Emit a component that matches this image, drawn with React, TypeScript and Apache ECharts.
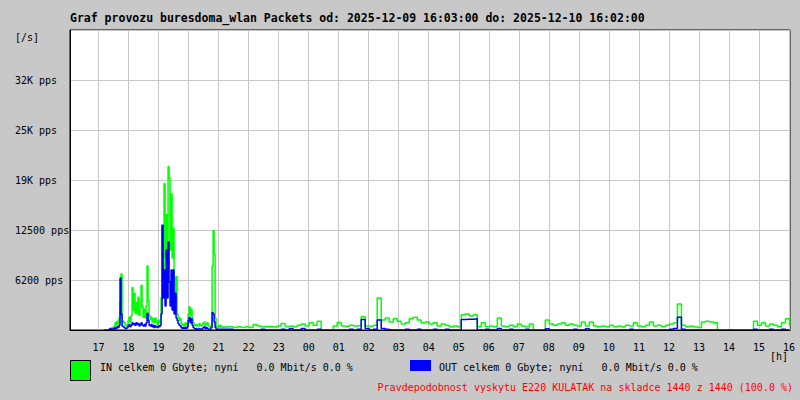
import React, { useEffect, useRef } from 'react';
import * as echarts from 'echarts';

const TITLE = 'Graf provozu buresdoma_wlan Packets od: 2025-12-09 16:03:00 do: 2025-12-10 16:02:00';
const START_MINUTE_OF_DAY = 16 * 60 + 3;
const MINUTES = 1440;

const Y_MAX = 37500;
const Y_STEP = 6250;
const Y_TICK_LABELS = ['', '6200 pps', '12500 pps', '19K pps', '25K pps', '32K pps', ''];

// busy period: one value every 2 minutes starting at category index 68 (17:11)
const BUSY_START = 68;
const BUSY_STEP = 2;
const IN_BUSY = [
  0, 0, 0, 0, 0,
  100, 200, 100, 300, 200, 500, 900, 600, 1100, 800,
  1500, 3500, 7000, 1200, 900, 1000, 600, 500, 700, 1200,
  1600, 1000, 1800, 5300, 2500, 4600, 2100, 3400, 2000, 4100,
  1800, 2800, 5600, 3000, 1600, 2600, 1500, 3000, 8000, 3700,
  1800, 1300, 1600, 1000, 1400, 900, 1500, 1100, 700, 1200,
  900, 1300, 4000, 13100, 6000, 18300, 9000, 14400, 8000, 20400,
  19000, 10000, 17000, 9000, 12700, 6500, 3500, 6700, 2000, 1600,
  1200, 1400, 800, 600, 700, 500, 900, 600, 800, 2000,
  2900, 1800, 2600, 1500, 900, 600, 500, 700, 600, 500,
  800, 600, 500, 700, 900, 1000, 600, 800, 900, 500,
  400, 300, 600, 8000, 12400, 9500, 1500, 500, 400, 500,
  300, 600, 400, 300, 400, 300, 400, 400, 300, 400,
];
const OUT_BUSY = [
  0, 0, 0, 0, 0,
  100, 200, 100, 100, 200, 100, 300, 200, 400, 300,
  600, 6500, 2000, 500, 400, 300, 200, 200, 300, 500,
  700, 400, 600, 900, 700, 800, 600, 900, 700, 800,
  500, 700, 900, 600, 500, 700, 500, 900, 2100, 1200,
  600, 500, 700, 400, 600, 300, 500, 400, 300, 500,
  400, 600, 2000, 13100, 4000, 7500, 3000, 10000, 4000, 11000,
  6000, 3000, 7500, 2500, 7500, 2000, 4600, 1500, 1200, 800,
  600, 500, 300, 200, 300, 200, 300, 200, 400, 1200,
  1600, 900, 1400, 600, 300, 200, 100, 200, 100, 100,
  200, 100, 100, 200, 300, 400, 200, 300, 200, 100,
  100, 100, 300, 2200, 2000, 1000, 300, 100, 100, 100,
  100, 100, 100, 100, 100, 100, 100, 100, 100, 100,
];

// rest of the day: one value every 8 minutes starting at category index 318 (21:21)
const REST_START = 318;
const REST_STEP = 8;
const IN_REST = [
  400, 300, 400, 300, 400, 300, 700, 500, 400, 450,
  400, 350, 500, 800, 450, 500, 400, 600, 750, 500,
  900, 600, 1100, 0, 0, 0, 500, 950, 500, 450,
  600, 500, 550, 1650, 500, 450, 600, 4000, 1250, 1500,
  1000, 1400, 1100, 750, 900, 1400, 1600, 1250, 900, 1000,
  750, 900, 500, 750, 600, 400, 500, 400, 1900, 2000,
  1750, 1900, 400, 900, 400, 500, 400, 1500, 500, 400,
  600, 400, 750, 500, 400, 750, 0, 0, 0, 1250,
  750, 600, 750, 900, 600, 750, 600, 500, 1000, 500,
  1000, 500, 400, 500, 400, 600, 400, 500, 400, 600,
  500, 900, 500, 400, 600, 1000, 500, 600, 400, 600,
  750, 900, 3250, 600, 400, 500, 400, 300, 1000, 1100,
  1000, 900, 0, 0, 0, 0, 0, 0, 0, 0,
  0, 1100, 600, 900, 500, 750, 600, 400, 900, 1400,
  500,
];
const OUT_REST = [
  100, 0, 0, 0, 0, 0, 0, 0, 100, 0,
  0, 0, 0, 100, 0, 150, 0, 0, 200, 0,
  0, 0, 100, 0, 0, 0, 0, 0, 0, 0,
  100, 0, 100, 1300, 200, 0, 100, 1250, 200, 100,
  0, 0, 0, 0, 100, 0, 0, 100, 0, 0,
  0, 100, 0, 0, 100, 0, 0, 0, 1300, 1350,
  1350, 1400, 0, 0, 100, 0, 0, 200, 0, 0,
  100, 0, 0, 0, 100, 0, 0, 0, 0, 150,
  0, 0, 0, 0, 0, 0, 100, 0, 0, 150,
  0, 0, 0, 0, 0, 0, 0, 0, 0, 0,
  100, 0, 0, 0, 0, 0, 0, 0, 0, 0,
  100, 200, 1600, 100, 0, 0, 0, 0, 0, 0,
  0, 0, 0, 0, 0, 0, 0, 0, 0, 0,
  0, 100, 0, 0, 0, 100, 0, 0, 100, 0,
  0,
];

const LEGEND_IN = 'IN celkem 0 Gbyte; nyní\u00a0\u00a0\u00a00.0 Mbit/s 0.0 %';
const LEGEND_OUT = 'OUT celkem 0 Gbyte; nyní\u00a0\u00a0\u00a00.0 Mbit/s 0.0 %';
const FOOTER = 'Pravdepodobnost vyskytu E220 KULATAK na skladce 1440 z 1440 (100.0 %)';

const FONT = '"DejaVu Sans Mono", monospace';

function buildCategories(): string[] {
  const out: string[] = [];
  for (let i = 0; i < MINUTES; i++) {
    const t = START_MINUTE_OF_DAY + i;
    const h = Math.floor(t / 60) % 24;
    const m = t % 60;
    out.push(String(h).padStart(2, '0') + ':' + String(m).padStart(2, '0'));
  }
  return out;
}

function toPairs(start: number, step: number, values: number[]) {
  return values.map((v, k) => [start + k * step, v]);
}

export default function App() {
  const ref = useRef<HTMLDivElement>(null);
  useEffect(() => {
    if (!ref.current) return;
    const chart = echarts.init(ref.current, undefined, { renderer: 'svg' });
    const cats = buildCategories();
    const onHour = (_i: number, v: string) => v.endsWith(':00');
    const inData = toPairs(BUSY_START, BUSY_STEP, IN_BUSY).concat(toPairs(REST_START, REST_STEP, IN_REST));
    const outData = toPairs(BUSY_START, BUSY_STEP, OUT_BUSY).concat(toPairs(REST_START, REST_STEP, OUT_REST));
    const label = { fontFamily: FONT, fontSize: 10, color: '#000' };
    chart.setOption({
      animation: false,
      backgroundColor: '#c8c8c8',
      title: {
        text: TITLE,
        left: 70,
        top: 12,
        padding: 0,
        textStyle: { fontFamily: FONT, fontWeight: 'bold', fontSize: 11.5, color: '#000' },
      },
      grid: {
        left: 70, right: 10, top: 30, bottom: 70,
        show: true, backgroundColor: '#ffffff', borderColor: '#000', borderWidth: 1,
      },
      xAxis: [
        {
          type: 'category',
          data: cats,
          boundaryGap: false,
          axisLine: { show: false },
          axisTick: { show: false, interval: onHour },
          axisLabel: {
            interval: onHour,
            formatter: (v: string) => v.slice(0, 2),
            margin: 12,
            ...label,
          },
          splitLine: { show: true, interval: onHour, lineStyle: { color: '#c8c8c8', width: 1 } },
        },
        {
          type: 'category',
          data: cats,
          boundaryGap: false,
          position: 'bottom',
          z: 10,
          axisLine: { show: true, lineStyle: { color: '#000', width: 1 } },
          axisTick: { show: false },
          axisLabel: { show: false },
          splitLine: { show: false },
        },
      ],
      yAxis: {
        type: 'value',
        min: 0,
        max: Y_MAX,
        interval: Y_STEP,
        axisLine: { show: true, lineStyle: { color: '#000', width: 1 } },
        axisTick: { show: false },
        axisLabel: {
          align: 'left',
          margin: 55,
          padding: [4, 0, 0, 0],
          formatter: (v: number) => Y_TICK_LABELS[Math.round(v / Y_STEP)] ?? '',
          ...label,
        },
        splitLine: { show: true, lineStyle: { color: '#c8c8c8', width: 1 } },
      },
      series: [
        {
          name: 'IN',
          type: 'line',
          xAxisIndex: 0,
          data: inData,
          step: 'end',
          showSymbol: false,
          symbol: 'none',
          lineStyle: { color: '#00ff00', width: 1.5 },
          itemStyle: { color: '#00ff00' },
          z: 2,
        },
        {
          name: 'OUT',
          type: 'line',
          xAxisIndex: 0,
          data: outData,
          step: 'end',
          showSymbol: false,
          symbol: 'none',
          lineStyle: { color: '#0000ff', width: 1.5 },
          itemStyle: { color: '#0000ff' },
          z: 3,
        },
      ],
      graphic: [
        { type: 'text', x: 15, y: 37, style: { text: '[/s]', font: '10px ' + FONT, fill: '#000', textVerticalAlign: 'middle' } },
        { type: 'text', x: 770, y: 356, style: { text: '[h]', font: '10px ' + FONT, fill: '#000', textVerticalAlign: 'middle' } },
        { type: 'rect', shape: { x: 70.5, y: 360.5, width: 20, height: 20 }, style: { fill: '#00ff00', stroke: '#000', lineWidth: 1 } },
        { type: 'text', x: 100, y: 367, style: { text: LEGEND_IN, font: '10px ' + FONT, fill: '#000', textVerticalAlign: 'middle' } },
        { type: 'rect', shape: { x: 410, y: 360, width: 21, height: 11 }, style: { fill: '#0000ff' } },
        { type: 'text', x: 439, y: 367, style: { text: LEGEND_OUT, font: '10px ' + FONT, fill: '#000', textVerticalAlign: 'middle' } },
        { type: 'text', x: 793, y: 387, style: { text: FOOTER, font: '10px ' + FONT, fill: '#ff0000', textAlign: 'right', textVerticalAlign: 'middle' } },
      ],
    });
    return () => chart.dispose();
  }, []);
  return (
    <div
      ref={ref}
      style={{ position: 'fixed', left: 0, top: 0, width: 800, height: 400, background: '#c8c8c8' }}
    />
  );
}
